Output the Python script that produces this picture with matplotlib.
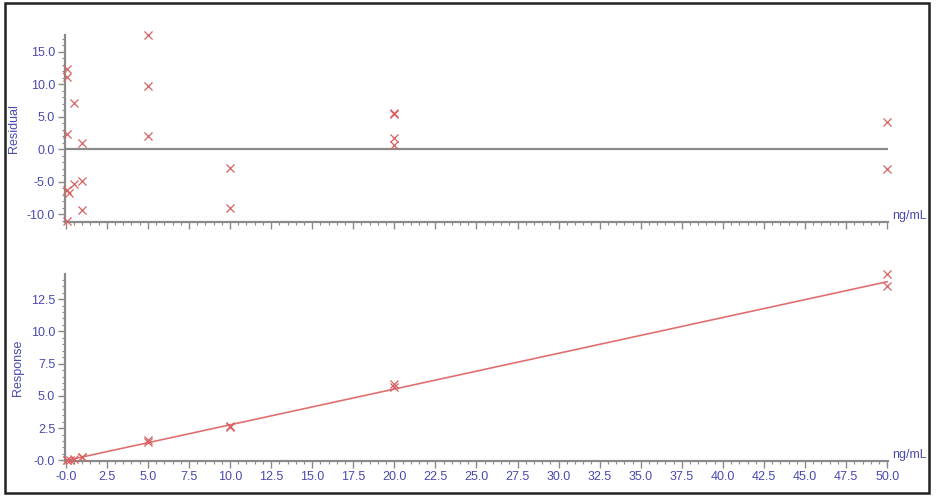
import matplotlib
matplotlib.use("Agg")
import matplotlib.pyplot as plt
from matplotlib.ticker import MultipleLocator, FuncFormatter
from matplotlib.patches import Rectangle

plt.rcParams["font.family"] = ["Liberation Sans", "DejaVu Sans"]

# residual plot (%), per calibration level
res_x = [0.1, 0.1, 0.1, 0.1, 0.2, 0.1, 0.5, 0.5, 1.0, 1.0, 1.0,
         5.0, 5.0, 5.0, 10.0, 10.0, 20.0, 20.0, 20.0, 20.0, 50.0, 50.0]
res_y = [12.4, 11.1, 2.3, -6.2, -6.8, -11.0, 7.2, -5.4, 0.9, -4.9, -9.4,
         17.6, 9.7, 2.0, -2.9, -9.0, 5.6, 5.5, 1.8, 0.6, 4.2, -3.1]

# response plot
resp_x = [0.1, 0.1, 0.25, 0.5, 1.0, 1.0, 5.0, 5.0, 10.0, 10.0,
          20.0, 20.0, 50.0, 50.0]
resp_y = [0.0, 0.01, 0.03, 0.1, 0.25, 0.28, 1.4, 1.55, 2.55, 2.65,
          5.7, 5.9, 14.45, 13.5]

# calibration line end points
fit_x = [0.0, 50.0]
fit_y = [-0.02, 13.85]

BLUE = "#4a4aae"
GREY = "#8a8a8a"
RED = "#d86262"
FS = 9


def fmt(v, pos):
    # the instrument software prints zero as "-0.0"
    if abs(v) < 1e-9:
        return "-0.0"
    return "%.1f" % v


def fmt_res(v, pos):
    if abs(v) < 1e-9:
        return "0.0"
    return "%.1f" % v


fig = plt.figure(figsize=(9.36, 4.99), dpi=100)
fig.patches.append(Rectangle((0.005, 0.012), 0.988, 0.982, transform=fig.transFigure,
                             fill=False, edgecolor="#222222", linewidth=1.8))

ax1 = fig.add_axes([0.0694, 0.5551, 0.8793, 0.3747])
ax2 = fig.add_axes([0.0694, 0.0762, 0.8793, 0.3747])


def style(ax):
    for s in ("top", "right"):
        ax.spines[s].set_visible(False)
    for s in ("left", "bottom"):
        ax.spines[s].set_color(GREY)
        ax.spines[s].set_linewidth(1.6)
    ax.set_xlim(-0.05, 50.05)
    ax.xaxis.set_major_locator(MultipleLocator(2.5))
    ax.xaxis.set_minor_locator(MultipleLocator(0.5))
    ax.tick_params(which="major", direction="out", length=5, width=1, color=GREY,
                   labelcolor=BLUE, labelsize=FS, pad=2)
    ax.tick_params(which="minor", direction="out", length=2.5, width=0.8, color=GREY)
    ax.text(1.005, 0.0, "ng/mL", transform=ax.transAxes, color=BLUE, fontsize=FS,
            ha="left", va="bottom")


style(ax1)
ax1.set_ylim(-11.2, 17.6)
ax1.yaxis.set_major_locator(MultipleLocator(5))
ax1.yaxis.set_minor_locator(MultipleLocator(1))
ax1.yaxis.set_major_formatter(FuncFormatter(fmt_res))
ax1.tick_params(axis="x", labelbottom=False)
ax1.plot([0, 50], [0, 0], color=GREY, linewidth=1.6, zorder=1)
ax1.scatter(res_x, res_y, marker="x", s=34, color=RED, linewidths=0.9, zorder=3,
            clip_on=False)
ax1.set_ylabel("Residual", color=BLUE, fontsize=FS, labelpad=5)

style(ax2)
ax2.set_ylim(-0.05, 14.45)
ax2.yaxis.set_major_locator(MultipleLocator(2.5))
ax2.yaxis.set_minor_locator(MultipleLocator(0.5))
ax2.yaxis.set_major_formatter(FuncFormatter(fmt))
ax2.xaxis.set_major_formatter(FuncFormatter(fmt))
ax2.plot(fit_x, fit_y, color="#e07070", linewidth=1.2, zorder=2)
ax2.scatter(resp_x, resp_y, marker="x", s=34, color=RED, linewidths=0.9, zorder=3,
            clip_on=False)
ax2.set_ylabel("Response", color=BLUE, fontsize=FS, labelpad=5)

fig.savefig("out.png", dpi=100)
